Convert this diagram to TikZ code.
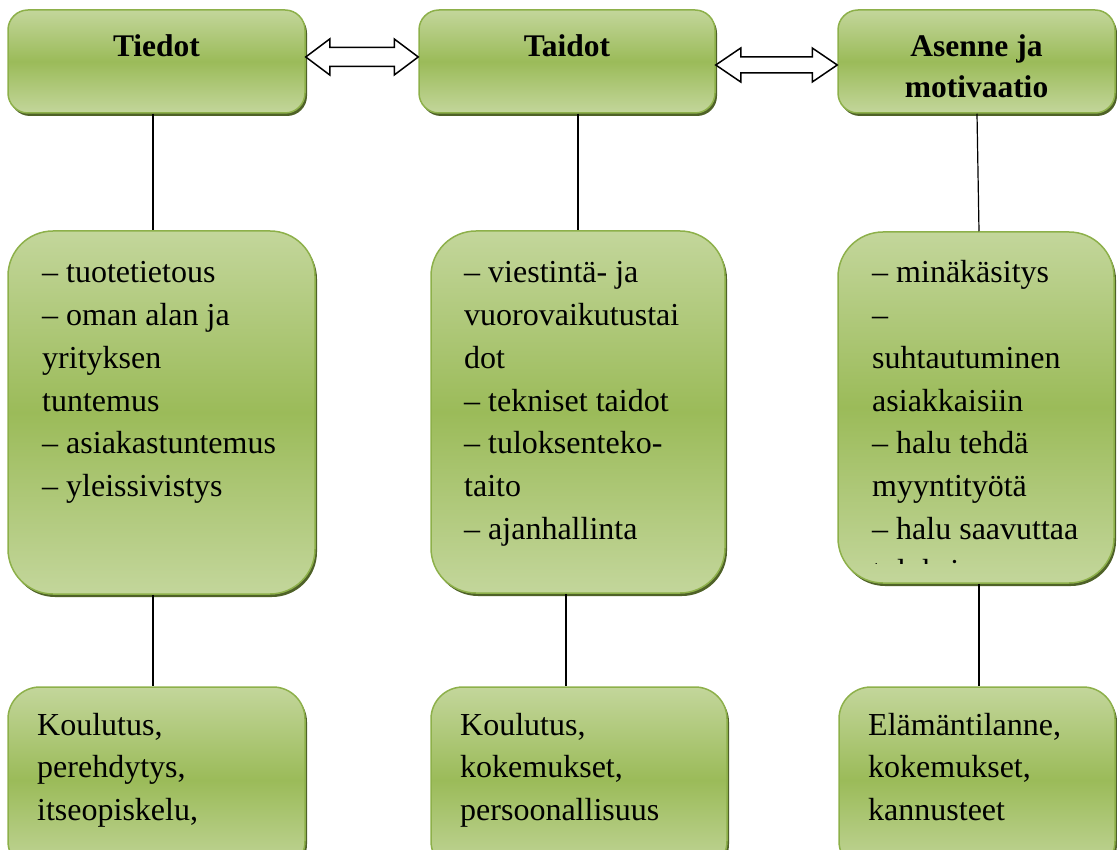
\documentclass[tikz,border=0pt]{standalone}
\usepackage{fontspec}
\setmainfont{Liberation Serif}
\usetikzlibrary{shadows,calc}

\definecolor{gLight}{HTML}{C3D69B}
\definecolor{gMid}{HTML}{9BBB59}
\definecolor{gEdge}{HTML}{8DB04A}
\definecolor{gShadow}{HTML}{4F6228}

\tikzset{
  gbox/.style={draw=gEdge, line width=1.5pt, top color=gLight, bottom color=gLight,
    middle color=gMid, inner sep=0pt,
    drop shadow={shadow xshift=2pt, shadow yshift=-3pt, fill=gShadow, opacity=1}},
  headbox/.style={gbox, rounded corners=20pt},
  midbox/.style={gbox, rounded corners=45pt},
  footbox/.style={gbox, rounded corners=32pt},
  head/.style={font=\fontsize{31.5}{41}\selectfont\bfseries, text width=270pt,
    align=flush center, inner sep=0pt, anchor=base},
  body/.style={font=\fontsize{32}{42.7}\selectfont, text width=285pt,
    align=flush left, inner sep=0pt, anchor=base west},
  link/.style={line width=1.2pt, black},
  dbl/.style={draw=black, line width=1.5pt, fill=white, line join=miter},
}

% two-headed block arrow between two nodes:
% #1 left node, #2 right node, #3 y, #4 head length, #5 head half-height, #6 shaft half-height
\newcommand\twoway[6]{%
  \path (#1.east |- 0,#3) coordinate (#1#2L) (#2.west |- 0,#3) coordinate (#1#2R);
  \draw[dbl] (#1#2L) -- ++(#4,-#5) -- ++(0,#5-#6) -- ($(#1#2R)+(-#4,-#6)$)
    -- ++(0,#6-#5) -- (#1#2R) -- ++(-#4,#5) -- ++(0,#6-#5)
    -- ($(#1#2L)+(#4,#6)$) -- ++(0,#5-#6) -- cycle;}

\begin{document}
\begin{tikzpicture}[x=1pt, y=-1pt]
\useasboundingbox (0,0) rectangle (1117,850);

% top row
\node[headbox, minimum width=297pt, minimum height=103pt] (t1) at (156.5,61.5) {};
\node[headbox, minimum width=296pt, minimum height=103pt] (t2) at (567,61.5) {};
\node[headbox, minimum width=277pt, minimum height=103pt] (t3) at (976.5,61.5) {};
\node[head] (t1l) at (156.5,57) {Tiedot};
\node[head] (t2l) at (567,57) {Taidot};
\node[head] (t3l) at (976.5,57) {Asenne ja\\motivaatio};

% middle row
\node[midbox, minimum width=307pt, minimum height=363pt] (m1) at (161.5,412.5) {};
\node[midbox, minimum width=294pt, minimum height=362pt] (m2) at (578,412) {};
\node[midbox, minimum width=276pt, minimum height=351pt] (m3) at (976,407.5) {};
\node[body] (m1l) at (42,283) {– tuotetietous\\– oman alan ja\\yrityksen\\tuntemus\\– asiakastuntemus\\– yleissivistys};
\node[body] (m2l) at (464,283) {– viestintä- ja\\vuorovaikutustai\\dot\\– tekniset taidot\\– tuloksenteko-\\taito\\– ajanhallinta};
\begin{scope}
  \clip (838,232) rectangle (1114,563);
  \node[body] (m3l) at (872,283) {– minäkäsitys\\–\\suhtautuminen\\asiakkaisiin\\– halu tehdä\\myyntityötä\\– halu saavuttaa\\tuloksia};
\end{scope}

% bottom row
\node[footbox, minimum width=297pt, minimum height=186pt] (b1) at (156.5,780) {};
\node[footbox, minimum width=296pt, minimum height=186pt] (b2) at (579,780) {};
\node[footbox, minimum width=276pt, minimum height=186pt] (b3) at (977,780) {};
\node[body] (b1l) at (37,735) {Koulutus,\\perehdytys,\\itseopiskelu,};
\node[body] (b2l) at (460,735) {Koulutus,\\kokemukset,\\persoonallisuus};
\node[body] (b3l) at (868,735) {Elämäntilanne,\\kokemukset,\\kannusteet};

% connecting lines
\draw[link] (t1.south -| 153,0) -- (m1.north -| 153,0);
\draw[link] (t2.south -| 578,0) -- (m2.north -| 578,0);
\draw[link] (t3.south -| 977,0) -- (m3.north -| 979,0);
\draw[link] (m1.south -| 153,0) -- (b1.north -| 153,0);
\draw[link] (m2.south -| 566,0) -- (b2.north -| 566,0);
\draw[link] (m3.south -| 979,0) -- (b3.north -| 979,0);

% block arrows between the headings
\twoway{t1}{t2}{57}{24}{18}{9.5}
\twoway{t2}{t3}{65}{25}{17}{8}
\end{tikzpicture}
\end{document}
